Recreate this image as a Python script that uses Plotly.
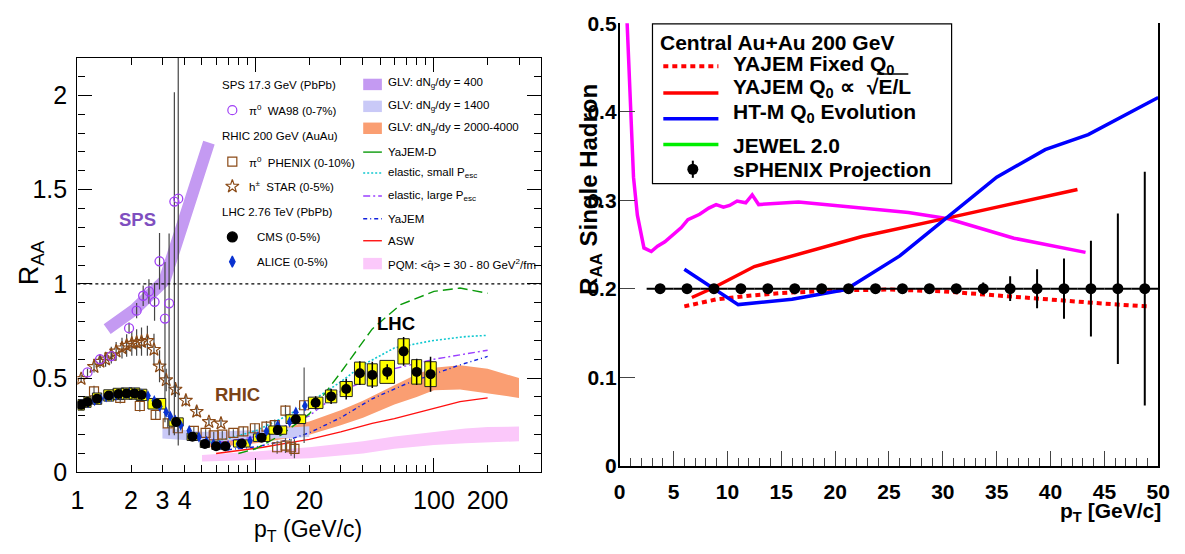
import math
import plotly.graph_objects as go

W, H = 1185, 554
FONT = "Liberation Sans, Arial, Helvetica, sans-serif"

# ================= LEFT PANEL DATA (R_AA vs pT, log x) =================
sps_band_x = [1.47, 2.10, 3.08, 3.64, 4.13, 4.63, 4.94, 5.47]
sps_band_y = [0.76, 0.865, 1.017, 1.23, 1.40, 1.50, 1.63, 1.75]

glv1400_x = [3.0, 4.0, 5.0, 6.0, 8.0, 10.0, 14.0, 20.0]
glv1400_lo = [0.18, 0.17, 0.165, 0.165, 0.17, 0.175, 0.18, 0.187]
glv1400_hi = [0.235, 0.225, 0.215, 0.215, 0.22, 0.225, 0.235, 0.245]

glv2000_x = [5, 7, 10, 14, 20, 30, 40, 60, 80, 100, 140, 200, 300]
glv2000_lo = [0.13, 0.14, 0.155, 0.175, 0.20, 0.25, 0.29, 0.36, 0.40, 0.435, 0.44, 0.42, 0.395]
glv2000_hi = [0.175, 0.19, 0.21, 0.235, 0.27, 0.33, 0.38, 0.46, 0.52, 0.555, 0.568, 0.55, 0.50]

pqm_x = [5, 10, 20, 40, 60, 100, 150, 200, 300]
pqm_lo = [0.057, 0.065, 0.075, 0.10, 0.125, 0.145, 0.155, 0.16, 0.165]
pqm_hi = [0.092, 0.11, 0.133, 0.165, 0.19, 0.215, 0.232, 0.24, 0.243]

yajemd_x = [8, 10, 14, 20, 30, 45, 65, 100, 140, 200]
yajemd_y = [0.10, 0.125, 0.20, 0.31, 0.53, 0.76, 0.89, 0.96, 0.978, 0.95]

el_small_x = [5.5, 7, 10, 15, 20, 30, 40, 60, 100, 150, 200]
el_small_y = [0.16, 0.18, 0.22, 0.30, 0.37, 0.48, 0.57, 0.66, 0.70, 0.72, 0.727]

el_large_x = [5, 7, 10, 15, 20, 30, 45, 60, 100, 140, 200]
el_large_y = [0.15, 0.165, 0.19, 0.25, 0.30, 0.43, 0.50, 0.55, 0.60, 0.625, 0.648]

yajem_x = [7, 10, 15, 20, 30, 45, 70, 100, 140, 200]
yajem_y = [0.12, 0.135, 0.17, 0.21, 0.29, 0.39, 0.47, 0.52, 0.57, 0.615]

asw_x = [6, 8, 11, 15, 20, 30, 45, 60, 80, 100, 140, 200]
asw_y = [0.10, 0.115, 0.133, 0.155, 0.175, 0.215, 0.26, 0.285, 0.315, 0.34, 0.375, 0.395]

wa98_x = [1.14, 1.34, 1.55, 1.95, 2.15, 2.34, 2.52, 2.71, 2.89, 3.10, 3.27, 3.50, 3.68]
wa98_y = [0.53, 0.60, 0.617, 0.765, 0.858, 0.937, 0.96, 0.905, 1.12, 0.816, 0.897, 1.437, 1.452]
wa98_eu = [0.02, 0.02, 0.02, 0.03, 0.04, 0.055, 0.065, 0.10, 0.15, 0.30, 0.37, 0.58, 1.0]
wa98_ed = [0.02, 0.02, 0.02, 0.03, 0.04, 0.055, 0.065, 0.10, 0.15, 0.55, 0.70, 1.24, 1.31]

star_x = [1.05, 1.24, 1.34, 1.44, 1.55, 1.65, 1.78, 1.89, 2.02, 2.15, 2.29, 2.47, 2.69, 2.89,
          3.15, 3.55, 4.06, 4.67, 5.47, 6.39]
star_y = [0.496, 0.56, 0.588, 0.60, 0.622, 0.642, 0.659, 0.673, 0.684, 0.689, 0.693, 0.698, 0.651,
          0.563, 0.49, 0.44, 0.381, 0.322, 0.268, 0.26]
star_err = [0.02, 0.03, 0.035, 0.04, 0.045, 0.05, 0.055, 0.06, 0.065, 0.07, 0.075, 0.08, 0.085,
            0.085, 0.06, 0.04, 0.03, 0.025, 0.02, 0.02]

phx_x = [1.24, 1.74, 2.24, 2.75, 3.21, 3.66, 4.5, 5.24, 5.82, 6.5, 7.5, 8.53, 9.9, 11.5, 12.8,
         13.2, 14.7, 14.7, 15.8, 16.5, 18.7]
phx_y = [0.43, 0.395, 0.352, 0.305, 0.26, 0.234, 0.22, 0.209, 0.196, 0.2, 0.209, 0.217, 0.234,
         0.243, 0.251, 0.133, 0.327, 0.142, 0.133, 0.125, 0.356]
phx_err = [0.03, 0.03, 0.03, 0.025, 0.025, 0.02, 0.02, 0.02, 0.02, 0.02, 0.02, 0.025, 0.025, 0.03,
           0.03, 0.035, 0.03, 0.04, 0.045, 0.05, 0.2]

cms_x = [1.05, 1.14, 1.29, 1.50, 1.70, 1.89, 2.09, 2.29, 2.79, 3.58, 4.42, 5.19, 6.0, 6.76, 8.35,
         10.8, 13.3, 16.8, 21.7, 26.5, 32.2, 38.4, 45.1, 54.7, 67.6, 80.0, 95.7]
cms_y = [0.358, 0.373, 0.391, 0.408, 0.416, 0.418, 0.418, 0.411, 0.364, 0.267, 0.189, 0.150, 0.138,
         0.138, 0.153, 0.184, 0.224, 0.282, 0.369, 0.403, 0.442, 0.526, 0.517, 0.533, 0.642, 0.533,
         0.521]
cms_stat = [0.005] * 14 + [0.006, 0.008, 0.01, 0.015, 0.035, 0.04, 0.055, 0.063, 0.07, 0.04, 0.076,
                           0.07, 0.093]
cms_sys = [0.028, 0.028, 0.03, 0.03, 0.03, 0.03, 0.03, 0.03, 0.028, 0.022, 0.02, 0.018, 0.017, 0.017,
           0.019, 0.02, 0.022, 0.023, 0.03, 0.034, 0.04, 0.059, 0.059, 0.061, 0.067, 0.065, 0.066]
cms_binw = [0.018, 0.02, 0.026, 0.028, 0.03, 0.03, 0.03, 0.03, 0.05, 0.04, 0.03, 0.026, 0.024, 0.022,
            0.046, 0.046, 0.05, 0.055, 0.041, 0.032, 0.034, 0.03, 0.028, 0.041, 0.032, 0.028, 0.032]

alice_x = [1.05, 1.15, 1.25, 1.35, 1.45, 1.55, 1.65, 1.75, 1.85, 1.95, 2.1, 2.3, 2.49, 2.7, 2.9,
           3.15, 3.32, 3.54, 3.8, 4.24, 4.81, 5.3, 5.8, 6.3, 7.0, 8.0, 9.3, 10.3, 11.5, 13.3, 15.5,
           16.8, 18.9]
alice_y = [0.36, 0.37, 0.38, 0.39, 0.40, 0.405, 0.41, 0.415, 0.418, 0.42, 0.42, 0.415, 0.406, 0.38,
           0.35, 0.319, 0.298, 0.277, 0.25, 0.221, 0.187, 0.165, 0.152, 0.145, 0.14, 0.15, 0.167,
           0.19, 0.218, 0.25, 0.268, 0.319, 0.353]
alice_err = [0.006] * 20 + [0.007, 0.007, 0.008, 0.008, 0.008, 0.009, 0.01, 0.01, 0.012, 0.014,
                            0.016, 0.02, 0.025]

left_label_vals = [1, 2, 3, 4, 10, 20, 100, 200]
left_label_text = ["1", "2", "3", "4", "10", "20", "100", "200"]
left_minor_vals = [5, 6, 7, 8, 9, 30, 40, 50, 60, 70, 80, 90, 300, 400]
left_major_x = [1, 10, 100]

# ================= RIGHT PANEL DATA (linear) =================
sph_x = [3.75, 6.25, 8.75, 11.25, 13.75, 16.25, 18.75, 21.25, 23.75, 26.25, 28.75, 31.25, 33.75,
         36.25, 38.75, 41.25, 43.75, 46.25, 48.75]
sph_y = [0.2, 0.2, 0.2, 0.2, 0.2, 0.2, 0.2, 0.2, 0.2, 0.2, 0.2, 0.2, 0.2, 0.2, 0.2, 0.2, 0.2, 0.2, 0.2]
sph_err = [0.001, 0.001, 0.001, 0.001, 0.001, 0.001, 0.001, 0.0015, 0.002, 0.002, 0.003, 0.004,
           0.007, 0.014, 0.022, 0.034, 0.054, 0.085, 0.132]
sph_xerr = [1.25] * 19

mag_x = [0.62, 0.97, 1.28, 1.64, 2.25, 2.93, 3.51, 4.19, 5.04, 5.72, 6.33, 7.42, 8.27, 8.95, 9.63,
         10.2, 10.9, 11.7, 12.3, 12.9, 16.6, 21.7, 26.8, 30.5, 33.2, 36.6, 43.25]
mag_y = [0.52, 0.405, 0.326, 0.283, 0.246, 0.242, 0.248, 0.253, 0.262, 0.269, 0.278, 0.284, 0.291,
         0.295, 0.292, 0.294, 0.299, 0.297, 0.306, 0.295, 0.298, 0.292, 0.286, 0.279, 0.269, 0.257,
         0.241]

yq_x = [6.7, 8.7, 12.5, 17.5, 22.5, 30.5, 42.5]
yq_y = [0.19, 0.201, 0.225, 0.242, 0.259, 0.28, 0.312]

yf_x = [6, 9, 12, 15, 20, 25, 30, 35, 40, 45, 49]
yf_y = [0.18, 0.188, 0.192, 0.195, 0.198, 0.199, 0.197, 0.192, 0.187, 0.183, 0.18]

htm_x = [6, 11, 16, 21, 26, 30.5, 35, 39.5, 43.5, 50]
htm_y = [0.222, 0.182, 0.188, 0.199, 0.237, 0.282, 0.326, 0.357, 0.374, 0.416]

# ================= FIGURE =================
fig = go.Figure()


def band(x, lo, hi, color):
    fig.add_trace(go.Scatter(x=list(x) + list(x)[::-1], y=list(hi) + list(lo)[::-1],
                             fill="toself", fillcolor=color, mode="lines", line=dict(width=0),
                             xaxis="x", yaxis="y", hoverinfo="skip", showlegend=False))


def curve(x, y, color, width, dash, xa="x", ya="y"):
    fig.add_trace(go.Scatter(x=x, y=y, mode="lines", line=dict(color=color, width=width, dash=dash),
                             xaxis=xa, yaxis=ya, hoverinfo="skip", showlegend=False))


C_SPS = "#c49af2"
C_1400 = "#c9c9f7"
C_2000 = "#fa9e72"
C_PQM = "#fbc8fa"
C_GREEN = "#0a9a0a"
C_CYAN = "#10c8d0"
C_VIOL = "#9a40ff"
C_BLUE = "#1020dd"
C_RED = "#ff1010"
C_BROWN = "#8b4a16"
C_WA = "#a040f5"

band(pqm_x, pqm_lo, pqm_hi, C_PQM)
band(glv2000_x, glv2000_lo, glv2000_hi, C_2000)
band(glv1400_x, glv1400_lo, glv1400_hi, C_1400)
curve(sps_band_x, sps_band_y, C_SPS, 12, "solid")

curve(asw_x, asw_y, C_RED, 1.4, "solid")
curve(yajem_x, yajem_y, C_BLUE, 1.4, "4px,3px,1px,3px")
curve(el_large_x, el_large_y, C_VIOL, 1.4, "7px,3px,2px,3px")
curve(el_small_x, el_small_y, C_CYAN, 1.6, "2px,2px")
curve(yajemd_x, yajemd_y, C_GREEN, 1.4, "10px,5px")

fig.add_trace(go.Scatter(x=phx_x, y=phx_y, mode="markers", xaxis="x", yaxis="y",
                         marker=dict(symbol="square-open", size=9, color=C_BROWN, line=dict(width=1.2)),
                         error_y=dict(type="data", array=phx_err, width=0, thickness=1.2, color="#555"),
                         showlegend=False, hoverinfo="skip"))
fig.add_trace(go.Scatter(x=star_x, y=star_y, mode="markers", xaxis="x", yaxis="y",
                         marker=dict(symbol="star-open", size=10, color=C_BROWN, line=dict(width=1.2)),
                         error_y=dict(type="data", array=star_err, width=0, thickness=1.2, color="#444"),
                         showlegend=False, hoverinfo="skip"))
fig.add_trace(go.Scatter(x=wa98_x, y=wa98_y, mode="markers", xaxis="x", yaxis="y",
                         marker=dict(symbol="circle-open", size=9, color=C_WA, line=dict(width=1.3)),
                         error_y=dict(type="data", symmetric=False, array=wa98_eu, arrayminus=wa98_ed,
                                      width=0, thickness=1.2, color="#444"),
                         showlegend=False, hoverinfo="skip"))

bx, by = [], []
for x, y, s, w in zip(cms_x, cms_y, cms_sys, cms_binw):
    xl, xr = x * 10 ** (-w), x * 10 ** w
    bx += [xl, xr, xr, xl, xl, None]
    by += [y - s, y - s, y + s, y + s, y - s, None]
fig.add_trace(go.Scatter(x=bx, y=by, mode="lines", fill="toself", fillcolor="#ffff00",
                         line=dict(color="#222", width=1), xaxis="x", yaxis="y",
                         showlegend=False, hoverinfo="skip"))
fig.add_trace(go.Scatter(x=alice_x, y=alice_y, mode="markers", xaxis="x", yaxis="y",
                         marker=dict(symbol="diamond-tall", size=8, color="#0a32d0"),
                         error_y=dict(type="data", array=alice_err, width=0, thickness=1, color="#0a32d0"),
                         showlegend=False, hoverinfo="skip"))
fig.add_trace(go.Scatter(x=cms_x, y=cms_y, mode="markers", xaxis="x", yaxis="y",
                         marker=dict(symbol="circle", size=10, color="black"),
                         error_y=dict(type="data", array=cms_stat, width=0, thickness=1.5, color="black"),
                         showlegend=False, hoverinfo="skip"))

# dummies on overlay tick axes
fig.add_trace(go.Scatter(x=[None], y=[None], xaxis="x4", yaxis="y", showlegend=False, hoverinfo="skip"))
fig.add_trace(go.Scatter(x=[None], y=[None], xaxis="x5", yaxis="y", showlegend=False, hoverinfo="skip"))

# ---- right panel ----
curve(mag_x, mag_y, "#ff00ff", 3.5, "solid", "x2", "y2")
curve(yf_x, yf_y, "#ff0000", 4, "5px,4px", "x2", "y2")
curve(yq_x, yq_y, "#ff0000", 3.5, "solid", "x2", "y2")
curve(htm_x, htm_y, "#0000ff", 3.5, "solid", "x2", "y2")
fig.add_trace(go.Scatter(x=sph_x, y=sph_y, mode="markers", xaxis="x2", yaxis="y2",
                         marker=dict(symbol="circle", size=11, color="black"),
                         error_y=dict(type="data", array=sph_err, width=0, thickness=2, color="black"),
                         error_x=dict(type="data", array=sph_xerr, width=0, thickness=2, color="black"),
                         showlegend=False, hoverinfo="skip"))

# ================= LEGENDS (pixel overlay axes x3/y3) =================
shapes = []
ann = []


def txt(x, y, s, size, color="black", bold=False, xanchor="left", yanchor="middle", angle=0):
    ann.append(dict(x=x, y=y, xref="x3", yref="y3", text=s, showarrow=False, xanchor=xanchor,
                    yanchor=yanchor, textangle=angle,
                    font=dict(family=FONT, size=size, color=color, weight="bold" if bold else "normal")))


def pline(x0, x1, y, color, width, dash):
    fig.add_trace(go.Scatter(x=[x0, x1], y=[y, y], mode="lines", xaxis="x3", yaxis="y3",
                             line=dict(color=color, width=width, dash=dash),
                             showlegend=False, hoverinfo="skip"))


def prect(x0, y0, x1, y1, color, lc=None, lw=0, layer="above"):
    shapes.append(dict(type="rect", xref="x3", yref="y3", x0=x0, y0=y0, x1=x1, y1=y1,
                       fillcolor=color, line=dict(color=lc or color, width=lw), layer=layer))


def pmark(x, y, symbol, size, color, lw=1.2):
    fig.add_trace(go.Scatter(x=[x], y=[y], mode="markers", xaxis="x3", yaxis="y3",
                             marker=dict(symbol=symbol, size=size, color=color, line=dict(width=lw, color=color)),
                             showlegend=False, hoverinfo="skip"))


LF = 11.5
txt(216, 77, "SPS 17.3 GeV (PbPb)", LF)
pmark(229, 103, "circle-open", 9, C_WA)
txt(244, 103, "π<sup>0</sup>  WA98 (0-7%)", LF)
txt(216, 130, "RHIC 200 GeV (AuAu)", LF)
pmark(229, 157, "square-open", 9, C_BROWN)
txt(244, 157, "π<sup>0</sup>  PHENIX (0-10%)", LF)
pmark(229, 183, "star-open", 10, C_BROWN)
txt(244, 183, "h<sup>±</sup>  STAR (0-5%)", LF)
txt(216, 210, "LHC 2.76 TeV (PbPb)", LF)
pmark(229, 236, "circle", 10, "black")
txt(252, 236, "CMS (0-5%)", LF)
pmark(229, 262, "diamond-tall", 8, "#0a32d0")
txt(252, 262, "ALICE (0-5%)", LF)

prect(362, 70, 381, 82, C_SPS)
txt(385, 75, "GLV: dN<sub>g</sub>/dy = 400", LF)
prect(362, 93, 381, 105, C_1400)
txt(385, 99, "GLV: dN<sub>g</sub>/dy = 1400", LF)
prect(362, 116, 381, 128, C_2000)
txt(385, 122, "GLV: dN<sub>g</sub>/dy = 2000-4000", LF)
pline(362, 381, 147, C_GREEN, 1.4, "solid")
txt(385, 147, "YaJEM-D", LF)
pline(362, 381, 169, C_CYAN, 1.6, "2px,2px")
txt(385, 169, "elastic, small P<sub>esc</sub>", LF)
pline(362, 381, 193, C_VIOL, 1.4, "7px,3px,2px,3px")
txt(385, 193, "elastic, large P<sub>esc</sub>", LF)
pline(362, 381, 217, C_BLUE, 1.4, "4px,3px,1px,3px")
txt(385, 217, "YaJEM", LF)
pline(362, 381, 240, C_RED, 1.4, "solid")
txt(385, 240, "ASW", LF)
prect(362, 258, 381, 270, C_PQM)
txt(385, 264, "PQM: &lt;q̂&gt; = 30 - 80 GeV<sup>2</sup>/fm", LF)

# panel labels
txt(133, 218, "SPS", 18.5, "#7f4fbf", True, "center")
txt(234, 401, "RHIC", 18.5, "#7b4316", True, "center")
txt(395, 327, "LHC", 18.5, "black", True, "center")

# axis titles left
txt(24, 263, "R<sub>AA</sub>", 27, angle=-90, xanchor="center")
txt(306, 544, "p<sub>T</sub> (GeV/c)", 23, xanchor="center")

# right legend
prect(656, 12.5, 960, 180, "white", "black", 1.2, layer="below")
RF = 21
txt(662, 32, "Central Au+Au 200 GeV", RF, bold=True)
pline(667, 723, 57, "#ff0000", 4, "5px,4px")
txt(736, 56, "YAJEM Fixed Q<sub>0</sub>", RF, bold=True)
pline(667, 723, 85, "#ff0000", 3.5, "solid")
txt(736, 80, "YAJEM Q<sub>0</sub> ∝", RF, bold=True)
txt(872, 78, "√E/L", RF, bold=True)
shapes.append(dict(type="line", xref="x3", yref="y3", x0=884, x1=916, y0=65, y1=65,
                   line=dict(color="black", width=1.6), layer="above"))
pline(667, 723, 112, "#0000ff", 3.5, "solid")
txt(736, 106, "HT-M Q<sub>0</sub> Evolution", RF, bold=True)
pline(667, 723, 139, "#00ee00", 3.5, "solid")
txt(736, 140, "JEWEL 2.0", RF, bold=True)
fig.add_trace(go.Scatter(x=[697], y=[165], mode="markers", xaxis="x3", yaxis="y3",
                         marker=dict(symbol="circle", size=11, color="black"),
                         error_y=dict(type="constant", value=9, width=0, thickness=2, color="black"),
                         showlegend=False, hoverinfo="skip"))
txt(736, 165, "sPHENIX Projection", RF, bold=True)

# right axis titles
txt(593, 186, "R<sub>AA</sub> Single Hadron", 24, bold=True, angle=-90, xanchor="center")
txt(1175, 525, "p<sub>T</sub> [GeV/c]", 21, bold=True, xanchor="right")

# y=1 dotted reference line
shapes.append(dict(type="line", xref="x domain", yref="y", x0=0, x1=1, y0=1, y1=1,
                   line=dict(color="black", width=1.1, dash="3px,3px"), layer="above"))

# ================= LAYOUT =================
LX0, LX1 = 71.5, 543.0
LY0, LY1 = 483.0, 48.0
RX0, RX1 = 622.7, 1170.0
RY0, RY1 = 476.0, 11.7

lrange = [0, math.log10(400)]
tick_common = dict(type="log", range=lrange, overlaying="x", anchor="y", side="bottom",
                   ticks="inside", tickwidth=1, tickcolor="black", showticklabels=False,
                   showline=True, linecolor="black", linewidth=1.3, mirror="ticks",
                   showgrid=False, zeroline=False)

fig.update_layout(
    width=W, height=H, autosize=False,
    margin=dict(l=0, r=0, t=0, b=0, pad=0),
    paper_bgcolor="white", plot_bgcolor="rgba(0,0,0,0)",
    font=dict(family=FONT, color="black"),
    showlegend=False,
    shapes=shapes, annotations=ann,
    xaxis=dict(domain=[LX0 / W, LX1 / W], type="log", range=lrange, anchor="y",
               tickvals=left_label_vals, ticktext=left_label_text, ticks="inside", ticklen=7,
               tickwidth=1, tickcolor="black", showline=True, linecolor="black", linewidth=1.3,
               mirror="ticks", showgrid=False, zeroline=False, ticklabelstandoff=6,
               tickfont=dict(size=25, family=FONT, color="black")),
    xaxis4=dict(tickvals=left_major_x, ticklen=14, **tick_common),
    xaxis5=dict(tickvals=left_minor_vals, ticklen=7, **tick_common),
    yaxis=dict(domain=[(H - LY0) / H, (H - LY1) / H], range=[0, 2.2], anchor="x",
               dtick=0.5, ticks="inside", ticklen=14, tickwidth=1, tickcolor="black",
               minor=dict(dtick=0.1, ticklen=7, ticks="inside", tickcolor="black", tickwidth=1),
               showline=True, linecolor="black", linewidth=1.3, mirror="ticks",
               showgrid=False, zeroline=False, ticklabelstandoff=4,
               tickfont=dict(size=25, family=FONT, color="black")),
    xaxis2=dict(domain=[RX0 / W, RX1 / W], range=[0, 50], anchor="y2", dtick=5,
                ticks="inside", ticklen=15, tickwidth=1.2, tickcolor="#444",
                minor=dict(dtick=1, ticklen=8, ticks="inside", tickcolor="#444", tickwidth=1),
                showline=True, linecolor="black", linewidth=1.8, showgrid=False, zeroline=False,
                ticklabelstandoff=6,
                tickfont=dict(size=21, family=FONT, color="black", weight="bold")),
    yaxis2=dict(domain=[(H - RY0) / H, (H - RY1) / H], range=[0, 0.5], anchor="x2", dtick=0.1,
                ticks="inside", ticklen=15, tickwidth=1.2, tickcolor="#444",
                showline=True, linecolor="black", linewidth=1.8, mirror=True,
                showgrid=False, zeroline=False, ticklabelstandoff=-3,
                tickfont=dict(size=21, family=FONT, color="black", weight="bold")),
    xaxis3=dict(domain=[0, 1], range=[0, W], anchor="y3", visible=False, fixedrange=True),
    yaxis3=dict(domain=[0, 1], range=[H, 0], anchor="x3", visible=False, fixedrange=True),
)

fig.write_html("out.html")
